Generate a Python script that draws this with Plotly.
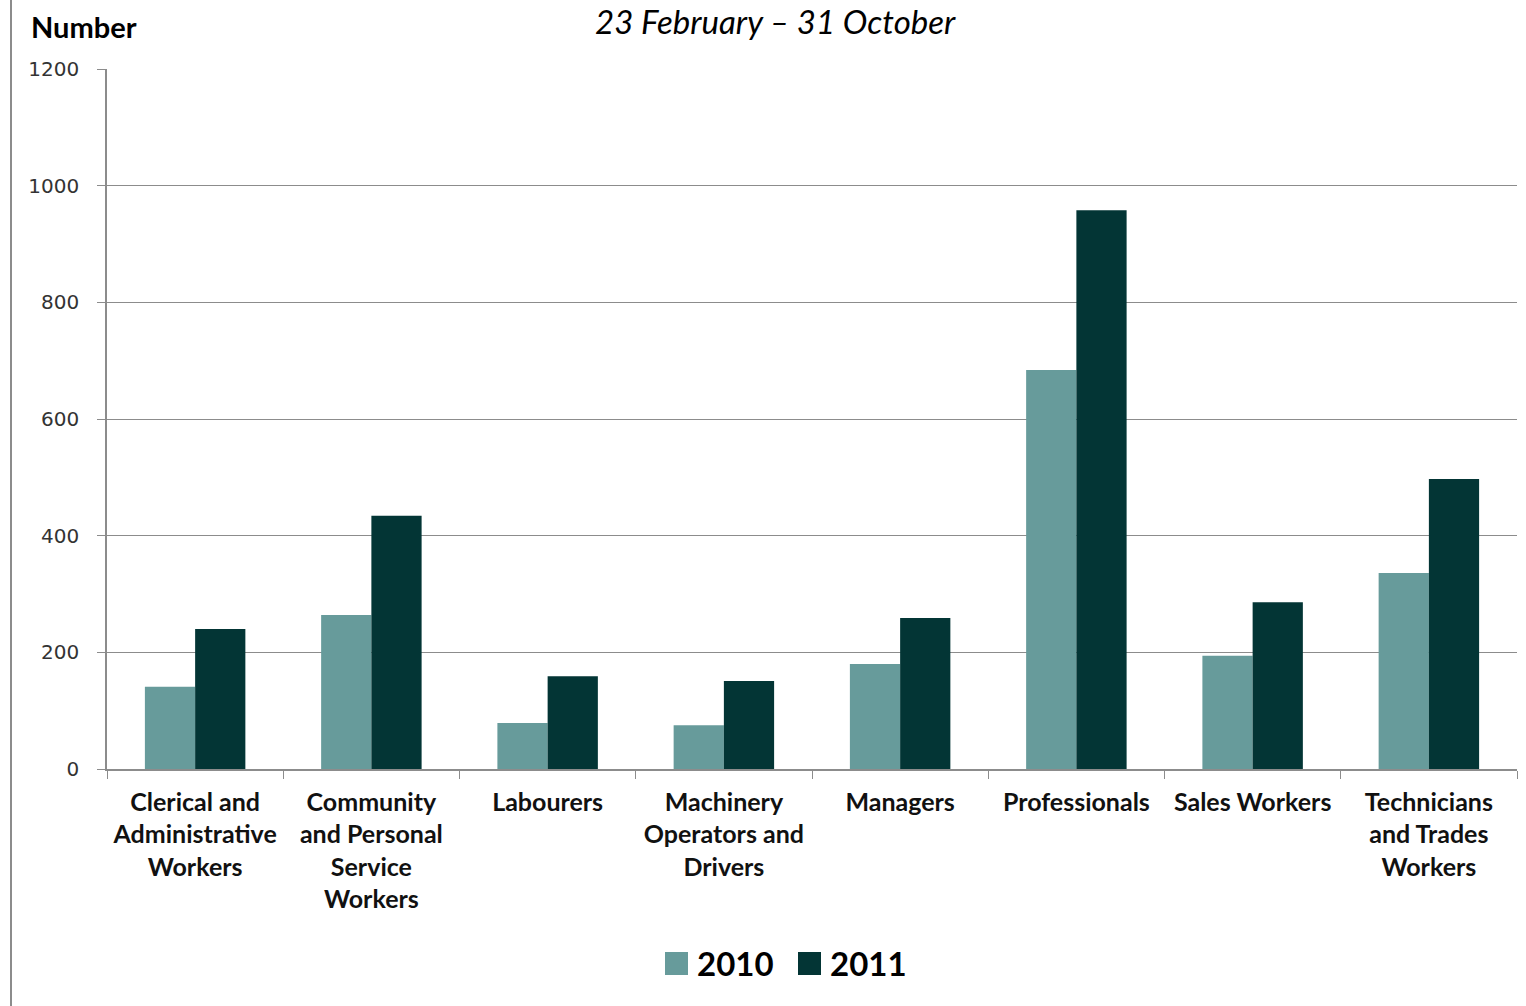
import plotly.graph_objects as go

categories = ["Clerical and<br>Administrative<br>Workers", "Community<br>and Personal<br>Service<br>Workers",
              "Labourers", "Machinery<br>Operators and<br>Drivers", "Managers", "Professionals",
              "Sales Workers", "Technicians<br>and Trades<br>Workers"]
series_names = ["2010", "2011"]
values_2010 = [141, 264, 79, 75, 180, 684, 194, 336]
values_2011 = [240, 434, 159, 151, 259, 958, 286, 497]
colors = ["#679b9b", "#033535"]
y_ticks = [0, 200, 400, 600, 800, 1000, 1200]

fig = go.Figure()
for name, vals, col in zip(series_names, [values_2010, values_2011], colors):
    fig.add_trace(go.Bar(name=name, x=categories, y=vals, marker_color=col,
                         marker_line_width=0, showlegend=False))

W, H = 1526, 1006
L, R, T, B = 107, 9, 69, 237
pw = W - L - R
ph = H - T - B


def py(p):
    # pixel row -> paper y
    return (H - B - p) / ph


def px(p):
    return (p - L) / pw


fig.update_layout(
    width=W, height=H,
    margin=dict(l=L, r=R, t=T, b=B, autoexpand=False),
    barmode="group", bargap=0.43, bargroupgap=0,
    plot_bgcolor="white", paper_bgcolor="white",
    font=dict(family="Lato, DejaVu Sans, sans-serif", color="#000000"),
    showlegend=False,
    xaxis=dict(
        showline=True, linecolor="#8c8c8c", linewidth=1.5,
        ticks="outside", tickson="boundaries", ticklen=8, tickcolor="#8c8c8c",
        tickfont=dict(size=25, family="Lato", weight="bold", color="#111111"),
        ticklabelstandoff=10,
        showgrid=False,
    ),
    yaxis=dict(
        range=[0, 1200], tickvals=y_ticks, ticks="outside", ticklen=8, tickcolor="#8c8c8c",
        showline=True, linecolor="#8c8c8c", linewidth=1.5,
        gridcolor="#8c8c8c", gridwidth=1,
        tickfont=dict(size=20, family="DejaVu Sans", color="#333333"),
        ticklabelstandoff=14,
        zeroline=False,
    ),
)

# legend (drawn manually to match the large square swatches)
legend_x = [665, 798]
for name, col, lx in zip(series_names, colors, legend_x):
    fig.add_shape(type="rect", xref="paper", yref="paper",
                  x0=px(lx), x1=px(lx + 23), y0=py(975), y1=py(952),
                  fillcolor=col, line=dict(width=0))
    fig.add_annotation(text="<b>" + name + "</b>", xref="paper", yref="paper",
                       x=px(lx + 30), y=py(963), xanchor="left", yanchor="middle",
                       showarrow=False, font=dict(size=33, family="Lato", color="#000000"))

fig.add_annotation(text="<b>Number</b>", xref="paper", yref="paper",
                   x=px(29), y=py(27), xanchor="left", yanchor="middle",
                   showarrow=False, font=dict(size=29, family="Lato", color="#000000"))
fig.add_annotation(text="<i>23 February \u2013 31 October</i>", xref="paper", yref="paper",
                   x=px(775), y=py(0), xanchor="center", yanchor="top",
                   showarrow=False, borderpad=0,
                   font=dict(size=33, family="Lato", color="#000000"))
fig.add_shape(type="line", xref="paper", yref="paper",
              x0=px(11), x1=px(11), y0=py(H), y1=py(0),
              line=dict(color="#8c8c8c", width=2))

fig.write_html("out.html", config={"displayModeBar": False},
               post_script="document.body.style.margin='0';document.body.style.overflow='hidden';")
